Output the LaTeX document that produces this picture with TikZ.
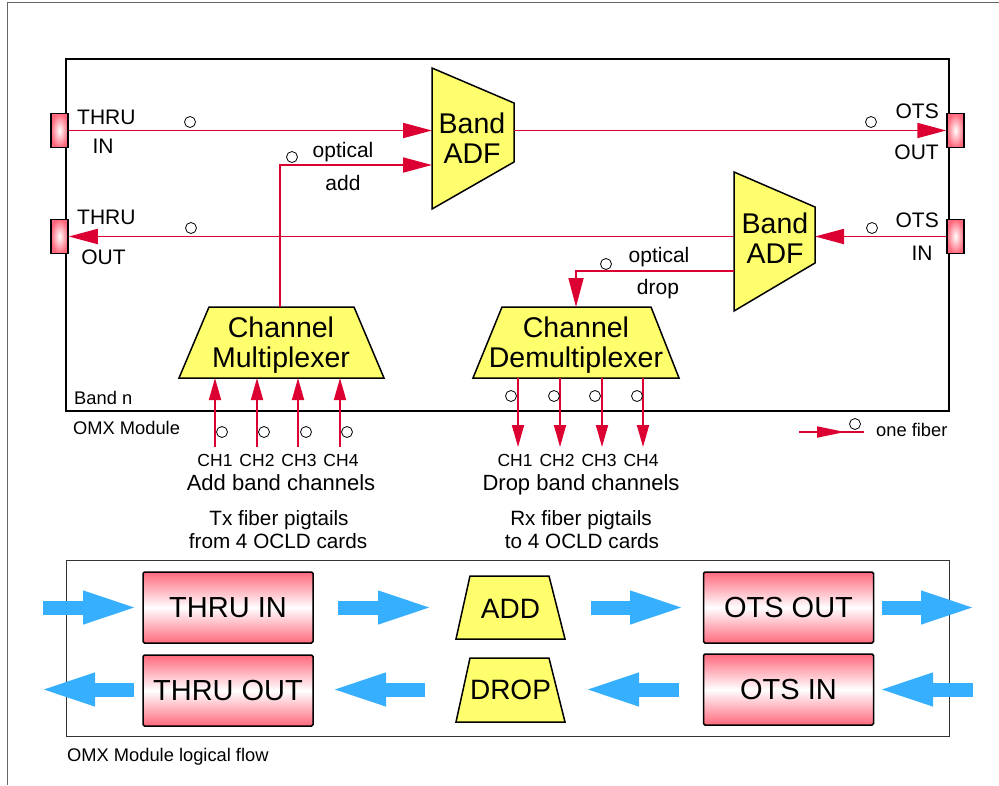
\documentclass[tikz,border=0pt]{standalone}
\usepackage{fontspec}
\setmainfont{Liberation Sans}
\usetikzlibrary{arrows.meta}
\definecolor{fib}{RGB}{220,0,50}
\definecolor{pnk}{RGB}{255,105,125}
\definecolor{ylw}{RGB}{255,255,110}
\definecolor{blu}{RGB}{55,175,255}
\begin{document}
\begin{tikzpicture}[x=1pt,y=-1pt,
 fiber/.style={draw=fib, line width=1.8pt},
 fibarr/.style={fiber, -{Triangle[length=29pt,width=15pt]}},
 charr/.style={fiber, -{Triangle[length=22pt,width=12pt]}},
 ring/.style={circle, draw=black, fill=white, line width=0.8pt, minimum size=11pt, inner sep=0pt},
 port/.style={draw=black, line width=1.5pt, inner color=white, outer color=pnk, minimum width=17pt, minimum height=34pt, inner sep=0pt},
 trap/.style={draw=black, line width=1.5pt, fill=ylw, line join=miter},
 fbox/.style={draw=black, line width=1.5pt, rounded corners=1.5pt, top color=pnk, bottom color=pnk, middle color=white, minimum width=170pt, minimum height=71pt, inner sep=0pt, font=\fontsize{29}{32}\selectfont},
 blarr/.style={draw=blu, line width=14pt, -{Triangle[length=58pt,width=29pt]}},
 tl/.style={inner sep=0pt, font=\fontsize{21}{25}\selectfont, anchor=base},
 tb/.style={inner sep=0pt, font=\fontsize{28.5}{32}\selectfont, anchor=base},
 tc/.style={inner sep=0pt, font=\fontsize{17.5}{20}\selectfont, anchor=base},
 ts/.style={inner sep=0pt, font=\fontsize{18.3}{21}\selectfont, anchor=base west},
 tm/.style={inner sep=0pt, font=\fontsize{20.7}{24}\selectfont, anchor=base},
]
\useasboundingbox (0,0) rectangle (999,785);
% outer frame
\draw[black!60, line width=1pt] (7,785) -- (7,2) -- (999,2);

% module box
\node[draw=black, line width=2pt, minimum width=883pt, minimum height=352pt, inner sep=0pt] (module) at (507.5,235) {};

% ports
\node[port] (pThruIn) at (59.5,130.5) {};
\node[port] (pThruOut) at (59.5,236.5) {};
\node[port] (pOtsOut) at (955.5,130.5) {};
\node[port] (pOtsIn) at (955.5,236.5) {};

% Band ADF shapes
\draw[trap] (432,68) -- (514,103) -- (514,162) -- (432,209) -- cycle;
\draw[trap] (734,172) -- (815,207) -- (815,263) -- (734,311) -- cycle;
\draw[trap] (209,307) -- (354,307) -- (384,378) -- (179,378) -- cycle;
\draw[trap] (502,307) -- (651,307) -- (679,378) -- (473,378) -- cycle;

\node[tb] (adfA1) at (472,133) {Band};
\node[tb] (adfA2) at (472,163) {ADF};
\node[tb] (adfB1) at (775,233) {Band};
\node[tb] (adfB2) at (775,263) {ADF};
\node[tb] (mux1) at (281,337) {Channel};
\node[tb] (mux2) at (281,367) {Multiplexer};
\node[tb] (dmx1) at (576,337) {Channel};
\node[tb] (dmx2) at (576,367) {Demultiplexer};

% coordinates
\coordinate (adf1inA) at (432,130.5);
\coordinate (adf1inB) at (432,165);
\coordinate (adf1out) at (514,130.5);
\coordinate (adf2in) at (815,236.5);
\coordinate (adf2outA) at (734,236.5);
\coordinate (adf2outB) at (734,271);
\coordinate (muxtop) at (280,307);
\coordinate (bendA) at (280,165);
\coordinate (dmxtop) at (576,307);
\coordinate (bendB) at (576,271);

% fibers
\draw[fibarr] (pThruIn.east) -- (adf1inA);
\draw[fibarr] (adf1out) -- (pOtsOut.west);
\draw[fibarr] (pOtsIn.west) -- (adf2in);
\draw[fibarr] (adf2outA) -- (pThruOut.east);
\draw[fibarr] (muxtop) -- (bendA) -- (adf1inB);
\draw[fibarr] (adf2outB) -- (bendB) -- (dmxtop);

% channel arrows
\foreach \x/\n in {215/1,257/2,298/3,340/4}{
  \coordinate (mt\n) at (\x,447);
  \coordinate (mb\n) at (\x,378);
  \draw[charr] (mt\n) -- (mb\n);
}
\foreach \x/\n in {518/1,560/2,602/3,643/4}{
  \coordinate (dt\n) at (\x,378);
  \coordinate (db\n) at (\x,447);
  \draw[charr] (dt\n) -- (db\n);
}

% rings
\node[ring] (r1) at (190,122) {};
\node[ring] (r2) at (191,228) {};
\node[ring] (r3) at (292,157) {};
\node[ring] (r4) at (871,122) {};
\node[ring] (r5) at (872,228) {};
\node[ring] (r6) at (606,264) {};
\foreach \x/\n in {222/1,264/2,306/3,347/4}{\node[ring] (rm\n) at (\x,432) {};}
\foreach \x/\n in {511/1,554/2,595/3,637/4}{\node[ring] (rd\n) at (\x,396) {};}

% labels
\node[tl, anchor=base west] (lThru1) at (77,124) {THRU};
\node[tl] (lIn1) at (103,153) {IN};
\node[tl, anchor=base west] (lThru2) at (77,224) {THRU};
\node[tl] (lOut2) at (103.5,264) {OUT};
\node[tl, anchor=base east] (lOts1) at (939,118) {OTS};
\node[tl, anchor=base east] (lOut1) at (939,159) {OUT};
\node[tl, anchor=base east] (lOts2) at (939,227) {OTS};
\node[tl] (lIn2) at (922,260) {IN};
\node[tl] (lopt1) at (343,157) {optical};
\node[tl] (ladd) at (343,190) {add};
\node[tl] (lopt2) at (659,262) {optical};
\node[tl] (ldrop) at (658,294) {drop};

\node[ts] (lband) at (74,404) {Band n};
\node[ts] (lomx) at (73,434) {OMX Module};

\foreach \x/\n in {215/1,257/2,299/3,341/4}{\node[tc] (cm\n) at (\x,466) {CH\n};}
\foreach \x/\n in {515/1,557/2,599/3,641/4}{\node[tc] (cd\n) at (\x,466) {CH\n};}
\node[tl, font=\fontsize{22}{26}\selectfont] (ladd2) at (281,490) {Add band channels};
\node[tl, font=\fontsize{22}{26}\selectfont] (ldrop2) at (581,490) {Drop band channels};
\node[tm] (tx1) at (279,525) {Tx fiber pigtails};
\node[tm] (tx2) at (278,548) {from 4 OCLD cards};
\node[tm] (rx1) at (581,525) {Rx fiber pigtails};
\node[tm] (rx2) at (582,548) {to 4 OCLD cards};

% legend
\coordinate (lgA) at (799,432);
\coordinate (lgM) at (845,432);
\coordinate (lgB) at (864,432);
\draw[fiber] (lgA) -- (lgB);
\draw[fiber, -{Triangle[length=28pt,width=11pt]}] (lgA) -- (lgM);
\node[ring] (rl) at (855,424) {};
\node[ts] (lone) at (876,436) {one fiber};

% logical flow
\node[draw=black!80, line width=1pt, minimum width=883pt, minimum height=176pt, inner sep=0pt] (flow) at (507.5,648) {};
\node[fbox] (fThruIn) at (228,607.5) {THRU IN};
\node[fbox] (fThruOut) at (228,690.5) {THRU OUT};
\node[fbox] (fOtsOut) at (788.5,607.5) {OTS OUT};
\node[fbox] (fOtsIn) at (788.5,689.5) {OTS IN};
\draw[trap] (470,576) -- (549,576) -- (565,639) -- (456,639) -- cycle;
\draw[trap] (470,658) -- (549,658) -- (565,722) -- (456,722) -- cycle;
\node[tb, font=\fontsize{28}{32}\selectfont] (fAdd) at (510.5,618) {ADD};
\node[tb, font=\fontsize{28}{32}\selectfont] (fDrop) at (510.5,699) {DROP};

\coordinate (b1s) at (43,607.5); \coordinate (b1e) at (141,607.5);
\coordinate (b2s) at (338,607.5); \coordinate (b2e) at (436,607.5);
\coordinate (b3s) at (591,607.5); \coordinate (b3e) at (688,607.5);
\coordinate (b4s) at (882,607.5); \coordinate (b4e) at (979,607.5);
\coordinate (c1s) at (134,689.5); \coordinate (c1e) at (37,689.5);
\coordinate (c2s) at (425,689.5); \coordinate (c2e) at (328,689.5);
\coordinate (c3s) at (679,689.5); \coordinate (c3e) at (581,689.5);
\coordinate (c4s) at (973,689.5); \coordinate (c4e) at (875,689.5);
\foreach \p in {b1,b2,b3,b4,c1,c2,c3,c4}{\draw[blarr] (\p s) -- (\p e);}

\node[ts] (lflow) at (67,761) {OMX Module logical flow};
\end{tikzpicture}
\end{document}
